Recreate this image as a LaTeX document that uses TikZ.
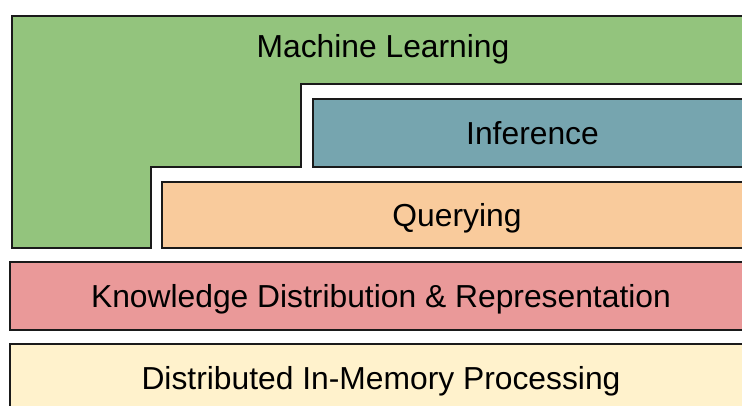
\documentclass[tikz,border=0pt]{standalone}
\usepackage{fontspec}
\setmainfont{Liberation Sans}
\definecolor{mlgreen}{HTML}{93C47D}
\definecolor{infteal}{HTML}{76A5AF}
\definecolor{qorange}{HTML}{F9CB9C}
\definecolor{kred}{HTML}{EA9999}
\definecolor{dyellow}{HTML}{FFF2CC}
\definecolor{edge}{HTML}{1A1A1A}
\begin{document}
\begin{tikzpicture}[x=1pt,y=-1pt,
  layer/.style={draw=edge, line width=1.3pt, inner sep=0pt, outer sep=0pt, anchor=north west},
  lbl/.style={font=\fontsize{31.8}{37}\selectfont, text height=22pt, text depth=0pt, inner sep=0pt}]
\useasboundingbox (0,0) rectangle (742,405);
\clip (0,0) rectangle (742,405);
% Machine Learning L-shape
\draw[fill=mlgreen, draw=edge, line width=1.3pt] (12,16) -- (770,16) -- (770,84) -- (301,84) -- (301,167) -- (151,167) -- (151,248) -- (12,248) -- cycle;
\node[lbl] (ml) at (383,46.3) {Machine Learning};
% Inference
\node[layer, fill=infteal, minimum width=439pt, minimum height=68pt] (inf) at (313,99) {};
\node[lbl] (inft) at (532.5,133) {Inference};
% Querying
\node[layer, fill=qorange, minimum width=590pt, minimum height=66pt] (qry) at (162,182) {};
\node[lbl] (qryt) at (457,215) {Querying};
% Knowledge
\node[layer, fill=kred, minimum width=742pt, minimum height=68pt] (kdr) at (10,262) {};
\node[lbl] (kdrt) at (381,296.3) {Knowledge Distribution \& Representation};
% Distributed
\node[layer, fill=dyellow, minimum width=742pt, minimum height=69pt] (dim) at (10,344) {};
\node[lbl] (dimt) at (381,378.7) {Distributed In-Memory Processing};
\end{tikzpicture}
\end{document}
